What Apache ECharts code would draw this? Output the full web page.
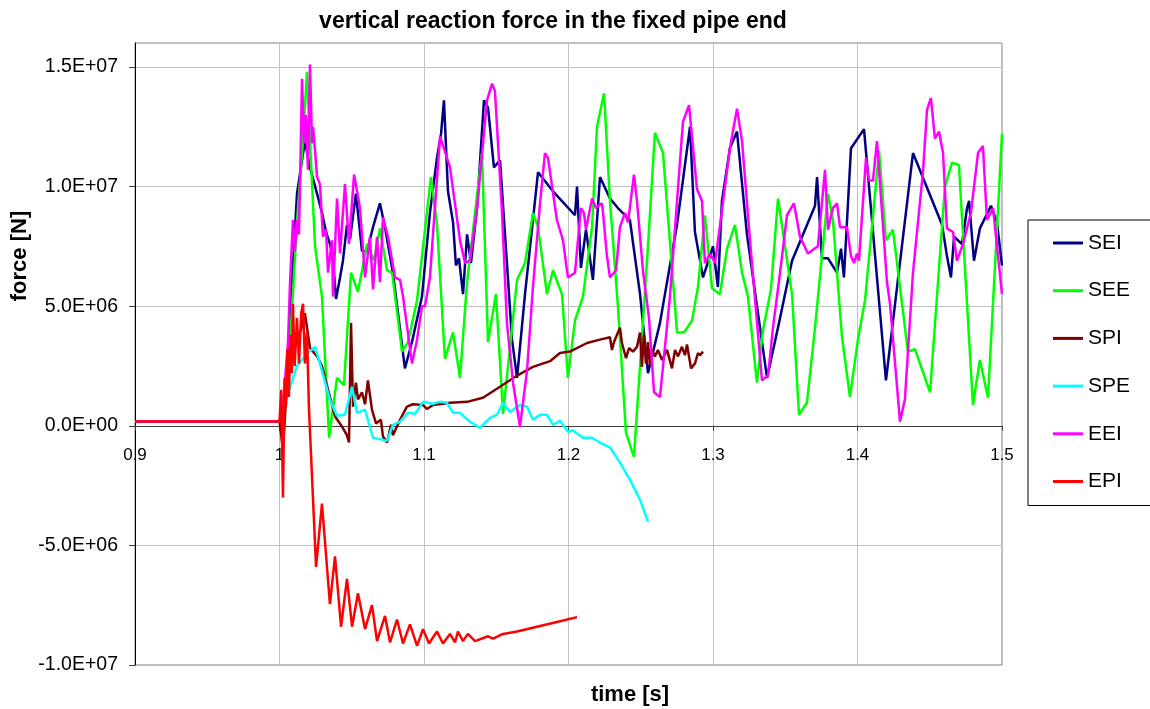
<!DOCTYPE html>
<html>
<head>
<meta charset="utf-8">
<script src="https://cdn.jsdelivr.net/npm/echarts@6/dist/echarts.min.js"></script>
<style>
html,body{margin:0;padding:0;background:#fff;}
#chart{width:1150px;height:709px;}
</style>
</head>
<body>
<div id="chart"></div>
<script>
// ---- data: [time (s), force (N)] ----
const seriesNames = ['SEI', 'SEE', 'SPI', 'SPE', 'EEI', 'EPI'];
const seriesColors = ['#000080', '#00ff00', '#800000', '#00ffff', '#ff00ff', '#ff0000'];
const xTicks = [0.9, 1.0, 1.1, 1.2, 1.3, 1.4, 1.5];
const yRange = [-1e7, 1.6e7];

const sei = [[0.9,0.18e6],[1.0,0.18e6],[1.0024,-0.2e6],[1.0059,3.0e6],[1.0121,9.7e6],[1.0176,11.9e6],[1.0211,10.8e6],
[1.026,9.7e6],[1.0294,8.9e6],[1.0322,8.1e6],[1.0349,7.6e6],[1.037,7.0e6],[1.0391,5.3e6],[1.0419,6.2e6],[1.0439,6.9e6],
[1.0467,8.4e6],[1.0488,7.8e6],[1.0529,9.7e6],[1.0571,7.3e6],[1.0606,7.3e6],[1.0647,8.3e6],[1.0695,9.3e6],[1.073,8.3e6],
[1.0785,6.4e6],[1.0868,2.4e6],[1.0917,3.5e6],[1.0986,5.4e6],[1.1041,8.9e6],[1.109,11.2e6],[1.1118,12.2e6],[1.1138,13.6e6],
[1.1166,9.8e6],[1.1201,8.5e6],[1.1221,6.7e6],[1.1242,7.0e6],[1.127,5.5e6],[1.1298,8.0e6],[1.1325,6.8e6],[1.1367,9.1e6],
[1.1415,13.6e6],[1.1443,13.3e6],[1.1484,10.8e6],[1.1526,11.1e6],[1.1574,6.8e6],[1.1609,3.6e6],[1.1644,2.0e6],[1.1699,5.5e6],
[1.1754,8.6e6],[1.1789,10.6e6],[1.1893,9.8e6],[1.2045,8.8e6],[1.2059,10.0e6],[1.2086,6.6e6],[1.2121,8.2e6],[1.2169,6.1e6],
[1.2218,10.4e6],[1.2287,9.5e6],[1.2342,9.1e6],[1.2425,8.6e6],[1.2495,5.5e6],[1.255,2.2e6],[1.2633,4.3e6],[1.2751,8.4e6],
[1.2841,12.5e6],[1.2875,8.1e6],[1.2931,6.2e6],[1.3,7.5e6],[1.3034,5.8e6],[1.3062,9.4e6],[1.3117,11.6e6],[1.3166,12.3e6],
[1.3235,8.0e6],[1.3374,2.0e6],[1.3464,4.5e6],[1.3547,6.9e6],[1.3706,9.2e6],[1.372,10.4e6],[1.3754,7.0e6],[1.3796,7.0e6],
[1.3858,6.4e6],[1.3886,7.4e6],[1.3906,6.2e6],[1.3955,11.6e6],[1.4045,12.4e6],[1.4197,1.9e6],[1.4384,11.4e6],[1.4585,8.4e6],
[1.4619,7.1e6],[1.4647,6.2e6],[1.4668,7.9e6],[1.4723,7.6e6],[1.4758,9.1e6],[1.4772,9.4e6],[1.4806,6.9e6],[1.4847,8.25e6],
[1.4924,9.2e6],[1.4965,8.5e6],[1.5,6.7e6]];

const see = [[0.9,0.18e6],[1.0,0.18e6],[1.0059,2.0e6],[1.0121,8.5e6],[1.0163,12.0e6],[1.019,14.8e6],[1.0211,11.9e6],
[1.0246,7.5e6],[1.0294,5.4e6],[1.0343,-0.5e6],[1.0398,2.0e6],[1.0446,1.7e6],[1.0495,6.4e6],[1.0543,5.6e6],[1.0606,7.6e6],
[1.0654,6.9e6],[1.0695,8.25e6],[1.0744,6.5e6],[1.0779,6.4e6],[1.0848,3.1e6],[1.0889,3.5e6],[1.0952,5.25e6],[1.1048,10.4e6],
[1.109,8.4e6],[1.1145,2.8e6],[1.1201,3.9e6],[1.1249,2.0e6],[1.1298,6.0e6],[1.1401,11.4e6],[1.1443,3.5e6],[1.1498,5.5e6],
[1.1547,0.5e6],[1.1644,6.1e6],[1.1699,6.8e6],[1.1754,8.9e6],[1.1789,8.3e6],[1.1851,5.5e6],[1.1893,6.5e6],[1.1955,5.5e6],
[1.1996,2.0e6],[1.2045,4.4e6],[1.21,5.4e6],[1.2163,8.3e6],[1.2197,12.5e6],[1.2246,13.9e6],[1.2287,9.4e6],[1.2342,5.0e6],
[1.2398,-0.3e6],[1.2453,-1.3e6],[1.255,7.5e6],[1.2598,12.25e6],[1.2654,11.4e6],[1.2751,3.9e6],[1.2799,3.9e6],[1.2855,4.4e6],
[1.2896,5.8e6],[1.2944,8.8e6],[1.2993,5.75e6],[1.3048,5.5e6],[1.3097,7.4e6],[1.3152,8.4e6],[1.3201,6.4e6],[1.3242,5.4e6],
[1.3304,1.8e6],[1.3346,4.0e6],[1.3401,5.7e6],[1.345,9.5e6],[1.3547,5.5e6],[1.3595,0.46e6],[1.365,0.96e6],[1.3706,4.1e6],
[1.3796,9.7e6],[1.383,8.6e6],[1.3893,3.7e6],[1.3948,1.2e6],[1.4003,3.6e6],[1.4052,5.25e6],[1.41,8.3e6],[1.4149,11.5e6],
[1.4197,7.75e6],[1.4245,8.2e6],[1.4349,3.1e6],[1.4398,3.2e6],[1.4502,1.4e6],[1.4605,10.0e6],[1.4654,11.0e6],[1.4702,10.9e6],
[1.4799,0.87e6],[1.4847,2.75e6],[1.4903,1.17e6],[1.5,12.2e6]];

const spi = [[0.9,0.18e6],[1.0,0.18e6],[1.0024,-1.0e6],[1.0059,2.5e6],[1.0107,3.5e6],[1.0149,4.0e6],[1.0176,4.7e6],
[1.0211,3.25e6],[1.026,2.9e6],[1.0294,2.5e6],[1.0336,1.5e6],[1.0384,0.4e6],[1.0433,-0.04e6],[1.0467,-0.4e6],[1.0481,-0.7e6],
[1.0495,4.3e6],[1.0509,0.8e6],[1.0529,1.8e6],[1.0543,1.1e6],[1.0571,1.4e6],[1.0592,0.9e6],[1.0612,1.9e6],[1.064,0.67e6],
[1.0668,0.1e6],[1.0702,0.25e6],[1.0716,-0.45e6],[1.0744,-0.7e6],[1.0772,0.04e6],[1.0785,-0.4e6],[1.0834,0.25e6],[1.0882,0.8e6],
[1.0924,0.9e6],[1.0993,0.87e6],[1.1021,0.7e6],[1.1062,0.87e6],[1.118,0.96e6],[1.1298,1.0e6],[1.1408,1.17e6],[1.1526,1.63e6],
[1.1644,2.1e6],[1.1754,2.46e6],[1.1872,2.7e6],[1.1941,3.04e6],[1.201,3.1e6],[1.2128,3.46e6],[1.2218,3.6e6],[1.2287,3.7e6],
[1.2301,3.17e6],[1.2315,3.5e6],[1.2356,4.1e6],[1.237,3.46e6],[1.2398,2.83e6],[1.2419,3.25e6],[1.2446,3.1e6],[1.2474,3.3e6],
[1.2495,3.9e6],[1.2508,2.46e6],[1.2522,3.8e6],[1.2536,2.6e6],[1.255,3.5e6],[1.2564,2.5e6],[1.2578,3.17e6],[1.2598,2.9e6],
[1.2619,3.17e6],[1.2647,2.75e6],[1.2682,3.17e6],[1.2716,2.4e6],[1.2737,3.17e6],[1.2758,2.9e6],[1.2785,3.3e6],[1.2806,2.95e6],
[1.282,3.4e6],[1.2848,2.4e6],[1.2875,2.6e6],[1.2896,3.04e6],[1.291,2.95e6],[1.2931,3.1e6]];

const spe = [[0.9,0.18e6],[1.0,0.18e6],[1.0052,1.2e6],[1.012,2.5e6],[1.0197,3.04e6],[1.0246,3.3e6],[1.028,2.6e6],
[1.0349,1.08e6],[1.0398,0.42e6],[1.0453,0.46e6],[1.0502,1.63e6],[1.0536,0.54e6],[1.0592,0.67e6],[1.0647,-0.5e6],[1.071,-0.58e6],
[1.0744,-0.63e6],[1.0785,0.04e6],[1.0834,0.17e6],[1.0889,0.54e6],[1.0938,0.5e6],[1.0993,1.0e6],[1.1062,0.92e6],[1.1111,1.0e6],
[1.1159,0.96e6],[1.1201,0.54e6],[1.1249,0.54e6],[1.1318,0.17e6],[1.1387,-0.08e6],[1.1457,0.33e6],[1.1505,0.46e6],[1.1547,0.96e6],
[1.1595,0.58e6],[1.1664,0.87e6],[1.1713,0.8e6],[1.1754,0.25e6],[1.1803,0.46e6],[1.1851,0.46e6],[1.1893,0.04e6],[1.1941,0.21e6],
[1.1996,-0.25e6],[1.2031,-0.2e6],[1.21,-0.5e6],[1.2163,-0.5e6],[1.2218,-0.7e6],[1.2287,-0.9e6],[1.2356,-1.54e6],[1.2425,-2.25e6],
[1.2495,-3.1e6],[1.255,-4.0e6]];

const eei = [[0.9,0.18e6],[1.0,0.18e6],[1.0024,0.8e6],[1.0059,3.5e6],[1.0073,6.0e6],[1.0093,8.6e6],[1.0107,7.3e6],[1.0121,8.6e6],
[1.0135,8.0e6],[1.0156,14.5e6],[1.017,11.8e6],[1.0183,13.0e6],[1.0197,10.7e6],[1.0211,15.1e6],[1.0225,11.8e6],[1.0232,12.5e6],
[1.0246,11.5e6],[1.026,10.4e6],[1.028,10.1e6],[1.0301,7.9e6],[1.0322,8.2e6],[1.0336,6.4e6],[1.0363,7.75e6],[1.037,5.4e6],
[1.0398,9.5e6],[1.0419,7.2e6],[1.0453,10.1e6],[1.0481,7.6e6],[1.0516,10.5e6],[1.0557,9.1e6],[1.0592,6.2e6],[1.0626,7.9e6],
[1.0647,5.7e6],[1.0675,7.9e6],[1.0695,6.0e6],[1.0716,8.7e6],[1.0751,7.9e6],[1.0799,6.2e6],[1.0834,6.1e6],[1.0855,5.4e6],
[1.0917,2.6e6],[1.0952,3.6e6],[1.0986,5.0e6],[1.1007,5.0e6],[1.1041,6.2e6],[1.1111,12.1e6],[1.118,10.8e6],[1.1249,7.75e6],
[1.1284,6.8e6],[1.1318,6.9e6],[1.1367,9.1e6],[1.1436,13.6e6],[1.1471,14.3e6],[1.1491,14.0e6],[1.154,8.9e6],[1.1574,4.3e6],
[1.1616,1.8e6],[1.1664,-0.04e6],[1.1713,2.3e6],[1.1754,5.8e6],[1.1803,9.3e6],[1.1837,11.4e6],[1.1858,11.2e6],[1.192,8.6e6],
[1.1962,7.75e6],[1.1996,6.2e6],[1.2045,6.4e6],[1.2086,9.1e6],[1.2107,8.9e6],[1.2121,8.2e6],[1.2163,9.5e6],[1.219,9.1e6],
[1.2232,9.3e6],[1.2239,8.9e6],[1.2266,7.1e6],[1.2287,6.2e6],[1.2329,6.5e6],[1.2356,8.3e6],[1.2391,8.9e6],[1.2412,8.5e6],
[1.2453,10.5e6],[1.2474,9.4e6],[1.2515,6.5e6],[1.2557,4.5e6],[1.2592,1.4e6],[1.2633,1.2e6],[1.2702,5.4e6],[1.2792,12.7e6],
[1.2834,13.4e6],[1.2889,9.9e6],[1.2924,9.4e6],[1.2944,6.8e6],[1.2979,7.2e6],[1.3014,6.8e6],[1.3062,9.0e6],[1.3117,11.6e6],
[1.3166,13.25e6],[1.3201,11.9e6],[1.3256,7.75e6],[1.3339,1.9e6],[1.3381,2.1e6],[1.3415,4.1e6],[1.3464,6.4e6],[1.3512,8.8e6],
[1.356,9.3e6],[1.3602,7.9e6],[1.3657,7.2e6],[1.3726,7.5e6],[1.3775,10.7e6],[1.3796,8.2e6],[1.383,9.1e6],[1.3858,9.3e6],
[1.3879,8.3e6],[1.3927,8.3e6],[1.3955,7.1e6],[1.3976,6.8e6],[1.3996,7.2e6],[1.401,6.9e6],[1.4059,11.2e6],[1.4079,10.25e6],
[1.4107,10.25e6],[1.4135,11.9e6],[1.4204,6.0e6],[1.4225,5.1e6],[1.4294,0.17e6],[1.4328,1.1e6],[1.4384,6.4e6],[1.4453,10.6e6],
[1.4481,13.2e6],[1.4508,13.7e6],[1.4536,12.0e6],[1.4564,12.3e6],[1.4592,11.4e6],[1.4619,8.25e6],[1.4661,8.1e6],[1.4688,6.9e6],
[1.473,7.6e6],[1.4785,8.9e6],[1.4834,11.4e6],[1.4868,11.7e6],[1.4896,8.6e6],[1.4938,9.1e6],[1.5,5.5e6]];

const epi = [[0.9,0.18e6],[1.0,0.18e6],[1.0012,1.5e6],[1.0024,-3.0e6],[1.0035,2.0e6],[1.0045,0.8e6],[1.0055,3.2e6],
[1.0065,1.2e6],[1.0075,3.8e6],[1.0085,2.2e6],[1.0093,5.1e6],[1.0105,2.5e6],[1.0121,4.5e6],[1.0135,2.6e6],[1.015,4.7e6],
[1.0163,5.1e6],[1.0176,2.6e6],[1.019,3.9e6],[1.0204,0.7e6],[1.0253,-5.9e6],[1.0294,-3.25e6],[1.0349,-7.46e6],[1.0384,-5.46e6],
[1.0426,-8.4e6],[1.0467,-6.4e6],[1.0502,-8.4e6],[1.0543,-7.0e6],[1.0592,-8.5e6],[1.064,-7.5e6],[1.0675,-9.0e6],[1.073,-7.95e6],
[1.0765,-9.05e6],[1.0813,-8.1e6],[1.0855,-9.1e6],[1.0903,-8.3e6],[1.0952,-9.2e6],[1.0993,-8.5e6],[1.1035,-9.1e6],[1.109,-8.6e6],
[1.1131,-9.1e6],[1.118,-8.7e6],[1.1215,-9.05e6],[1.1235,-8.6e6],[1.127,-9.0e6],[1.1304,-8.7e6],[1.1353,-9.0e6],[1.1443,-8.8e6],
[1.1478,-8.9e6],[1.1547,-8.7e6],[1.1644,-8.6e6],[1.1782,-8.4e6],[1.192,-8.2e6],[1.2059,-8.0e6]];

const seriesData = [sei, see, spi, spe, eei, epi];

function sci(v) {
  if (v === 0) return '0.0E+00';
  const s = v < 0 ? '-' : '';
  const a = Math.abs(v);
  let e = Math.floor(Math.log10(a));
  let m = a / Math.pow(10, e);
  if (m >= 9.95) { m /= 10; e++; }
  return s + m.toFixed(1) + 'E' + (e < 0 ? '-' : '+') + String(Math.abs(e)).padStart(2, '0');
}

const FONT = '"Liberation Sans", Arial, Helvetica, sans-serif';
const GRID = {left: 135, top: 43, right: 148, bottom: 44};
const plotH = 709 - GRID.top - GRID.bottom;
// distance of the zero line above the plot bottom (x axis crosses at y = 0)
const zeroOffset = plotH * (0 - yRange[0]) / (yRange[1] - yRange[0]);

const chart = echarts.init(document.getElementById('chart'), null, {renderer: 'canvas'});

chart.setOption({
  animation: false,
  backgroundColor: '#ffffff',
  grid: Object.assign({show: true, borderColor: '#808080', borderWidth: 1, backgroundColor: 'transparent'}, GRID),
  xAxis: {
    type: 'value', min: xTicks[0], max: xTicks[xTicks.length - 1], interval: 0.1,
    position: 'bottom', offset: -zeroOffset,
    axisLine: {onZero: false, lineStyle: {color: '#404040', width: 1}},
    axisTick: {show: true, length: 5, lineStyle: {color: '#404040'}},
    axisLabel: {margin: 21, color: '#000', fontFamily: FONT, fontSize: 17,
      formatter: v => String(+(+v).toFixed(1))},
    splitLine: {show: true, lineStyle: {color: '#c0c0c0', width: 1}}
  },
  yAxis: {
    type: 'value', min: yRange[0], max: yRange[1], interval: 5e6,
    axisLine: {show: true, onZero: false, lineStyle: {color: '#000', width: 1}},
    axisTick: {show: true, length: 6, lineStyle: {color: '#404040'}},
    axisLabel: {margin: 17, color: '#000', fontFamily: FONT, fontSize: 19.5, showMaxLabel: false, formatter: sci},
    splitLine: {show: true, lineStyle: {color: '#c0c0c0', width: 1}}
  },
  legend: {
    orient: 'vertical', left: 1028, top: 220,
    padding: [11, 90, 12, 25],
    icon: 'rect',
    itemWidth: 30, itemHeight: 3, itemGap: 23.7,
    borderColor: '#000', borderWidth: 1, backgroundColor: '#fff',
    textStyle: {fontFamily: FONT, fontSize: 21, color: '#000', lineHeight: 24},
    data: seriesNames
  },
  graphic: [
    {type: 'text', x: 553, y: 22, style: {text: 'vertical reaction force in the fixed pipe end', x: 0, y: 0,
      textAlign: 'center', textVerticalAlign: 'middle', font: 'bold 23px ' + FONT, fill: '#000'}},
    {type: 'text', x: 630, y: 695, style: {text: 'time [s]', x: 0, y: 0, textAlign: 'center', textVerticalAlign: 'middle',
      font: 'bold 22px ' + FONT, fill: '#000'}},
    {type: 'text', x: 20, y: 256, rotation: Math.PI / 2, style: {text: 'force [N]', x: 0, y: 0, textAlign: 'center',
      textVerticalAlign: 'middle', font: 'bold 22px ' + FONT, fill: '#000'}}
  ],
  series: seriesNames.map((name, i) => ({
    name: name, type: 'line', data: seriesData[i], symbol: 'none', showSymbol: false,
    color: seriesColors[i],
    itemStyle: {color: seriesColors[i]},
    lineStyle: {color: seriesColors[i], width: 2.5},
    z: 2 + i
  }))
});
</script>
</body>
</html>
